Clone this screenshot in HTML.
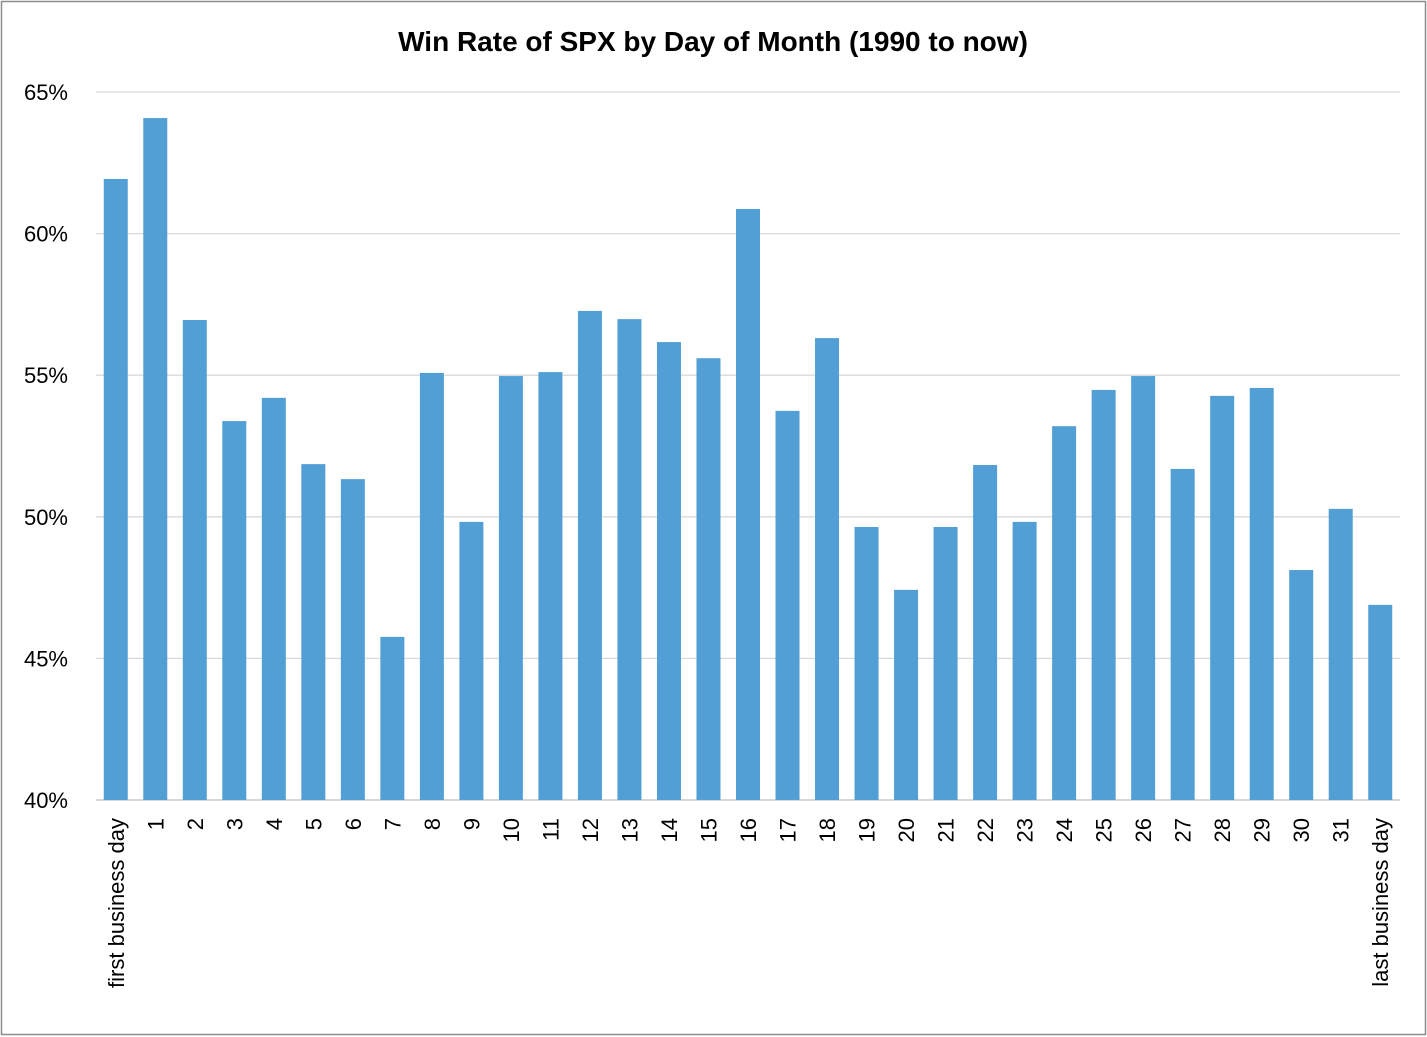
<!DOCTYPE html>
<html><head><meta charset="utf-8"><style>
html,body{margin:0;padding:0;background:#fff}
svg{display:block}
text{font-family:"Liberation Sans",sans-serif;fill:#000}
</style></head><body>
<svg id="chart" width="1427" height="1037" viewBox="0 0 1427 1037">
<rect x="1.5" y="1.5" width="1424" height="1033" fill="#fff" stroke="#8c8c8c" stroke-width="1.5"/>
<text x="713" y="51" font-size="28" font-weight="bold" text-anchor="middle">Win Rate of SPX by Day of Month (1990 to now)</text>
<g id="grid"></g>
<g id="bars"></g>
<g id="yt"></g>
<g id="xt"></g>
</svg>
<script>
const categories=["first business day","1","2","3","4","5","6","7","8","9","10","11","12","13","14","15","16","17","18","19","20","21","22","23","24","25","26","27","28","29","30","31","last business day"];
const winRate=[61.93,64.08,56.95,53.38,54.2,51.86,51.33,45.76,55.08,49.82,54.97,55.11,57.27,56.98,56.17,55.6,60.87,53.74,56.31,49.64,47.42,49.64,51.83,49.82,53.2,54.48,54.97,51.69,54.27,54.55,48.12,50.28,46.89];
const yTicks=[40,45,50,55,60,65];
const yTickLabels=["40%","45%","50%","55%","60%","65%"];
const NS="http://www.w3.org/2000/svg";
const L=96,R=1400,T=92,B=800,yMin=40,yMax=65;
const y=v=>B-(v-yMin)/(yMax-yMin)*(B-T);
const step=(R-L)/categories.length;
const xc=i=>L+step*(i+0.5);
const bw=24;
function mk(tag,attrs,parent){const e=document.createElementNS(NS,tag);for(const k in attrs)e.setAttribute(k,attrs[k]);parent.appendChild(e);return e;}
const grid=document.getElementById('grid'),bars=document.getElementById('bars'),yt=document.getElementById('yt'),xt=document.getElementById('xt');
yTicks.forEach((t,i)=>{
  const ln=mk('line',{x1:L,x2:R,y1:y(t),y2:y(t),stroke:i===0?'#bfbfbf':'#d9d9d9','stroke-width':1.3},grid);
  
  
  const tx=mk('text',{x:68,y:y(t)+8,'font-size':22,'text-anchor':'end'},yt);
  tx.textContent=yTickLabels[i];
  
  
});
winRate.forEach((v,i)=>{
  const r=mk('rect',{x:xc(i)-bw/2,y:y(v),width:bw,height:y(yMin)-y(v),fill:'#529fd6'},bars);
  
  
});
categories.forEach((c,i)=>{
  const tx=mk('text',{transform:`translate(${xc(i)+8},818) rotate(-90)`,'font-size':22,'text-anchor':'end'},xt);
  tx.textContent=c;
  
  
});
</script>
</body></html>
